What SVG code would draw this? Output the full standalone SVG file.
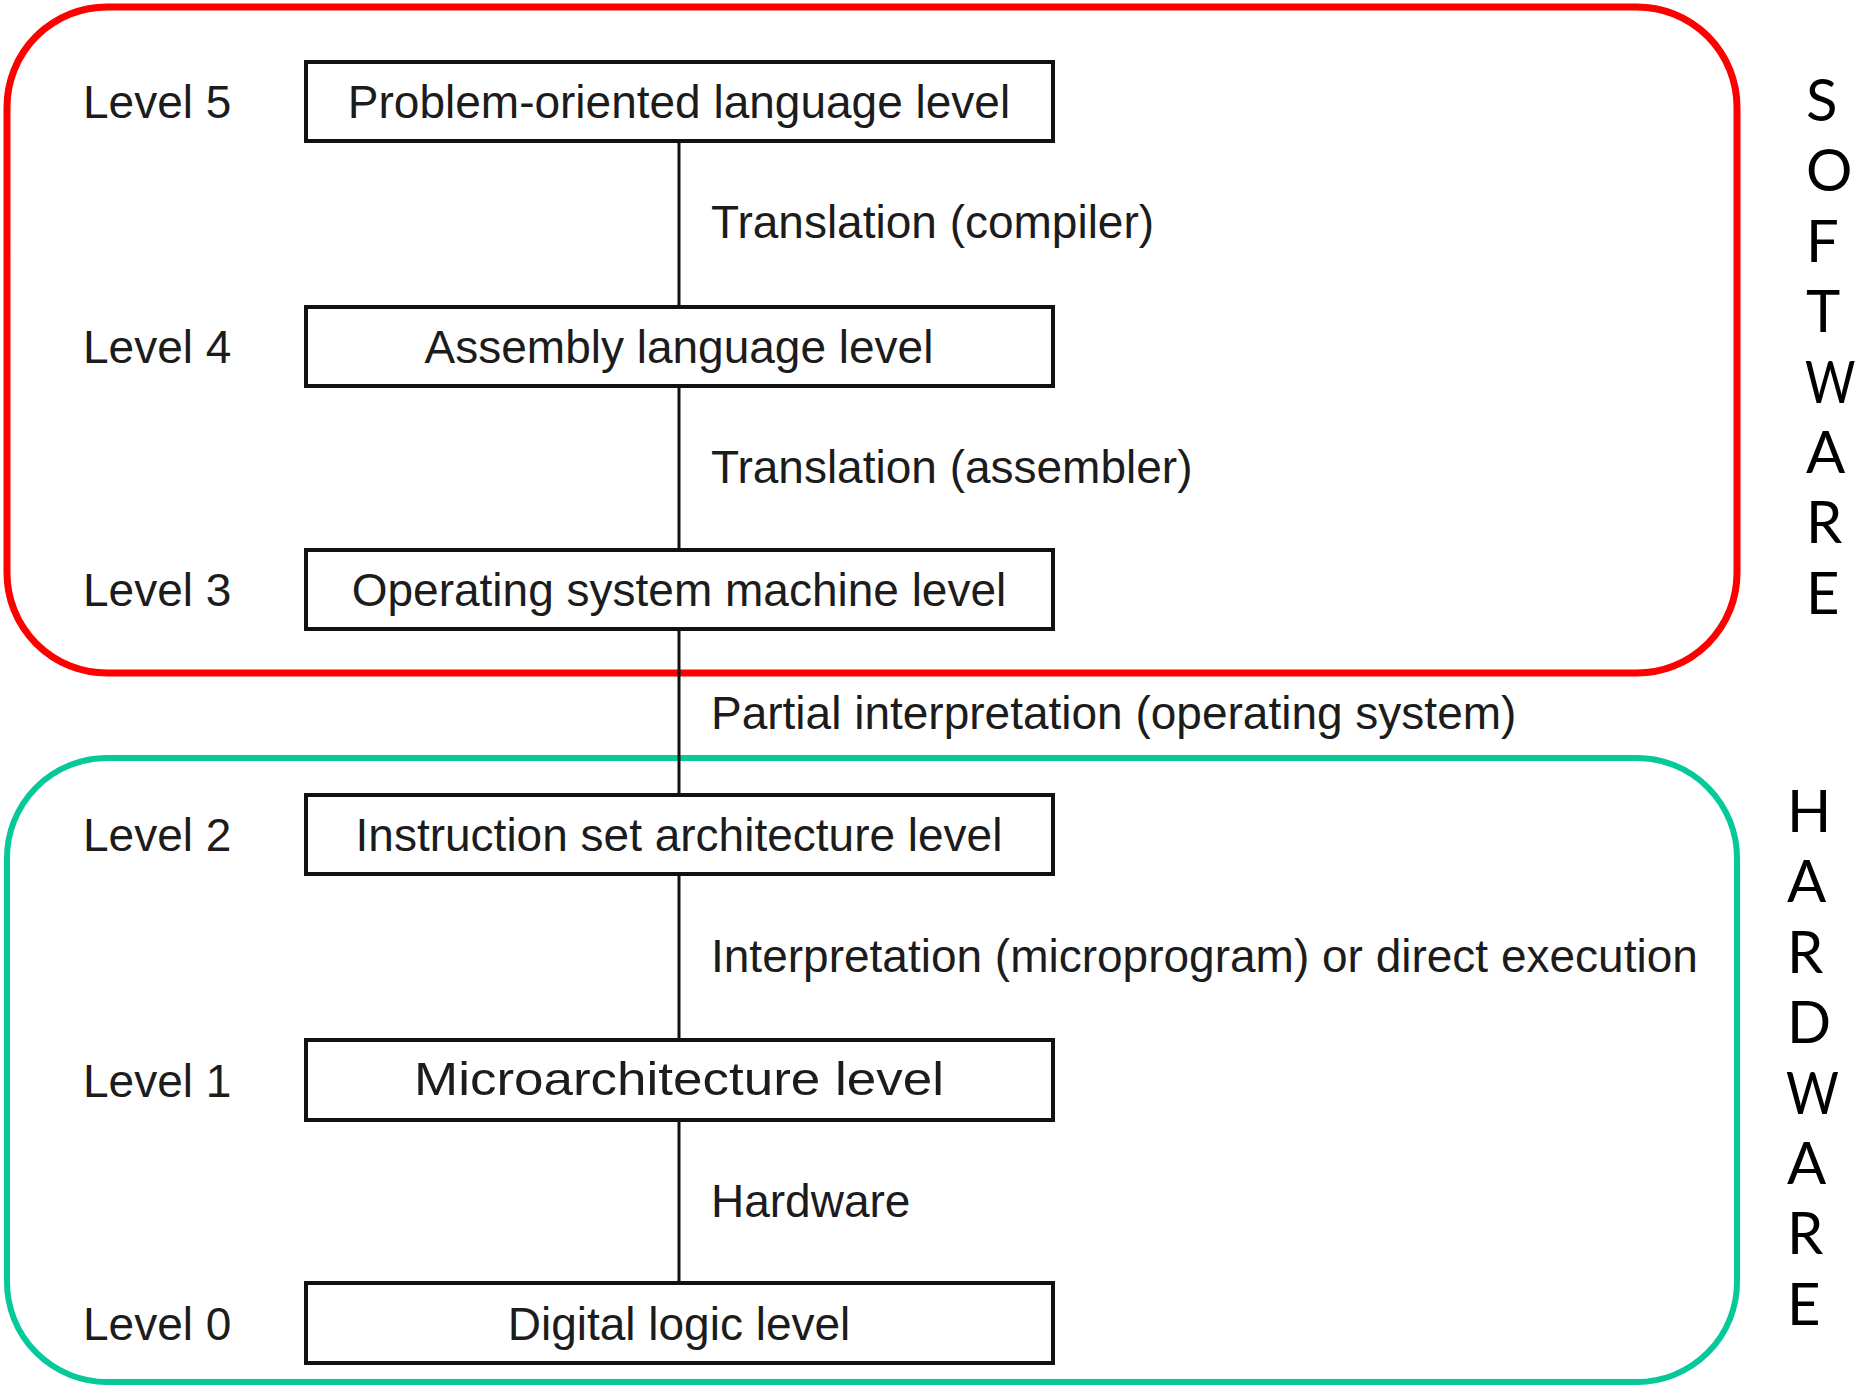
<svg xmlns="http://www.w3.org/2000/svg" width="1858" height="1388" viewBox="0 0 1858 1388">
  <style>
    .lvl { font-family: "Liberation Sans", Arial, sans-serif; font-size: 46px; fill: #1c1c1c; }
    .box { fill: #ffffff; stroke: #111111; stroke-width: 4; }
    .boxtxt { font-family: "Liberation Sans", Arial, sans-serif; font-size: 46px; fill: #1c1c1c; text-anchor: middle; }
    .edge { font-family: "Liberation Sans", Arial, sans-serif; font-size: 46px; fill: #1c1c1c; }
    .side { font-family: Lato, "Open Sans", sans-serif; font-size: 58px; fill: #000000; }
  </style>

  <!-- grouping frames with their vertical captions -->
  <g id="software-frame">
    <rect x="7" y="7" width="1730" height="666" rx="100" ry="100" fill="none" stroke="#ff0000" stroke-width="7"/>
    <text class="side" x="1806" y="121">S</text>
    <text class="side" x="1806" y="191">O</text>
    <text class="side" x="1806" y="262">F</text>
    <text class="side" x="1806" y="332">T</text>
    <text class="side" x="0" y="0" transform="translate(1805,403) scale(0.84,1)">W</text>
    <text class="side" x="1806" y="473">A</text>
    <text class="side" x="1806" y="543">R</text>
    <text class="side" x="1806" y="614">E</text>
  </g>
  <g id="hardware-frame">
    <rect x="7" y="758" width="1730" height="624" rx="100" ry="100" fill="none" stroke="#06c999" stroke-width="6"/>
    <text class="side" x="1787" y="832">H</text>
    <text class="side" x="1787" y="902">A</text>
    <text class="side" x="1787" y="973">R</text>
    <text class="side" x="1787" y="1043">D</text>
    <text class="side" x="0" y="0" transform="translate(1786,1114) scale(0.88,1)">W</text>
    <text class="side" x="1787" y="1184">A</text>
    <text class="side" x="1787" y="1254">R</text>
    <text class="side" x="1787" y="1325">E</text>
  </g>

  <!-- connectors between levels -->
  <g id="connectors">
    <line x1="679" y1="143" x2="679" y2="1281" stroke="#111111" stroke-width="3"/>
    <text class="edge" x="711" y="238">Translation (compiler)</text>
    <text class="edge" x="711" y="483">Translation (assembler)</text>
    <text class="edge" x="711" y="729">Partial interpretation (operating system)</text>
    <text class="edge" x="711" y="972">Interpretation (microprogram) or direct execution</text>
    <text class="edge" x="711" y="1217">Hardware</text>
  </g>

  <!-- levels -->
  <g id="level5">
    <text class="lvl" x="83" y="118">Level 5</text>
    <rect class="box" x="306" y="62" width="747" height="79"/>
    <text class="boxtxt" x="679" y="118">Problem-oriented language level</text>
  </g>
  <g id="level4">
    <text class="lvl" x="83" y="363">Level 4</text>
    <rect class="box" x="306" y="307" width="747" height="79"/>
    <text class="boxtxt" x="679" y="363">Assembly language level</text>
  </g>
  <g id="level3">
    <text class="lvl" x="83" y="606">Level 3</text>
    <rect class="box" x="306" y="550" width="747" height="79"/>
    <text class="boxtxt" x="679" y="606">Operating system machine level</text>
  </g>
  <g id="level2">
    <text class="lvl" x="83" y="851">Level 2</text>
    <rect class="box" x="306" y="795" width="747" height="79"/>
    <text class="boxtxt" x="679" y="851">Instruction set architecture level</text>
  </g>
  <g id="level1">
    <text class="lvl" x="83" y="1097">Level 1</text>
    <rect class="box" x="306" y="1040" width="747" height="80"/>
    <text class="boxtxt" x="679" y="1095" textLength="530" lengthAdjust="spacingAndGlyphs">Microarchitecture level</text>
  </g>
  <g id="level0">
    <text class="lvl" x="83" y="1340">Level 0</text>
    <rect class="box" x="306" y="1283" width="747" height="80"/>
    <text class="boxtxt" x="679" y="1340">Digital logic level</text>
  </g>
</svg>
